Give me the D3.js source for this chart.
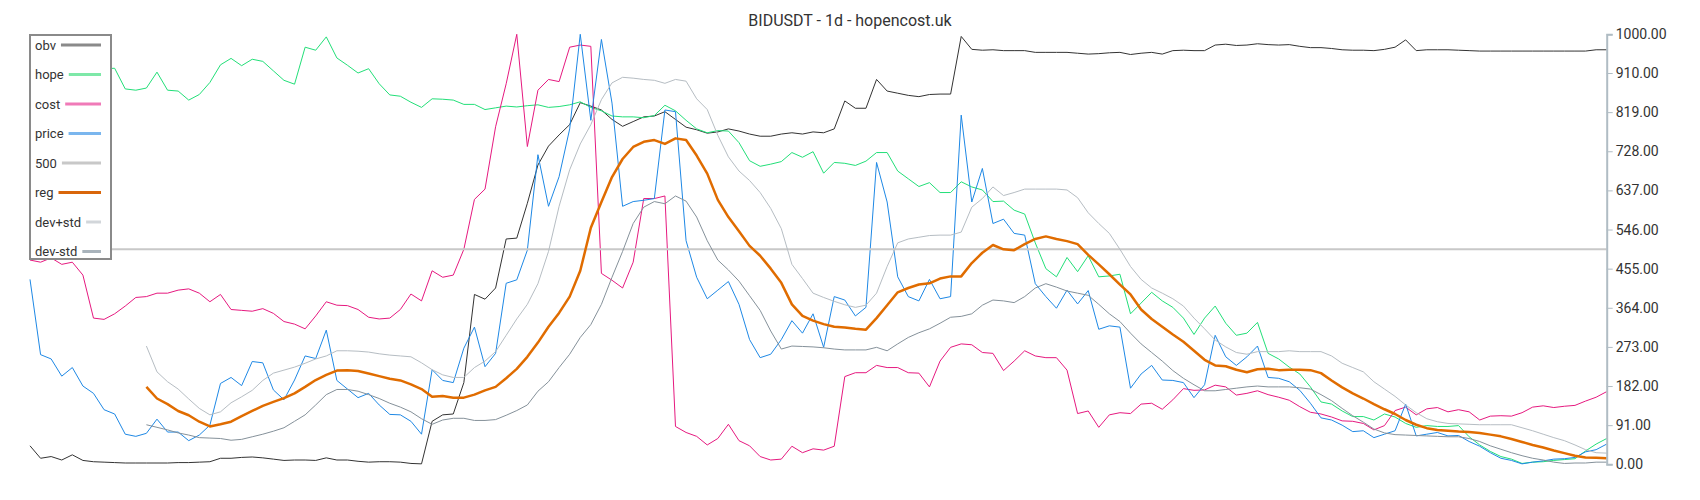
<!DOCTYPE html>
<html><head><meta charset="utf-8">
<script src="https://cdn.jsdelivr.net/npm/d3@7"></script>
<style>
body{margin:0;background:#fff;}
svg{display:block;font-family:Roboto,"Noto Sans",sans-serif;}
</style>
</head><body>
<svg id="chart" width="1700" height="500"></svg>
<script>
const title = "BIDUSDT - 1d - hopencost.uk";
const seriesNames = ["obv","hope","cost","price","500","reg","dev+std","dev-std"];
const tickValues = [0,91,182,273,364,455,546,637,728,819,910,1000];

const obv = [43,14,18,10,22,9,6,5,4,3,
3,3,3,3,4,4,5,6,14,14,
16,17,15,12,9,10,10,9,15,10,
10,7,5,6,6,5,2,1,100,115,
117,190,395,384,410,524,526,607,696,740,
766,790,841,833,824,802,786,797,808,810,
820,802,784,778,770,773,780,775,768,763,
763,768,771,768,773,771,780,845,828,828,
895,868,863,858,855,860,861,861,995,965,
963,964,962,962,962,958,958,958,958,956,
954,955,957,958,953,956,958,954,962,963,
962,962,975,977,974,975,978,976,975,976,
972,969,969,967,964,963,963,962,965,970,
987,962,964,964,964,963,962,961,961,961,
961,961,961,961,961,961,961,961,964,964];

const hope = [910,905,915,900,910,915,920,920,921,873,
870,875,912,870,868,847,860,888,929,944,
927,942,937,915,893,884,970,963,994,945,
928,910,920,885,859,856,842,830,850,849,
847,837,837,825,829,833,831,834,836,830,
832,836,843,830,822,810,808,808,806,811,
835,822,800,780,771,776,775,748,706,693,
698,704,725,714,727,677,702,700,695,705,
725,725,682,664,646,655,632,632,657,645,
638,611,612,591,582,515,455,436,481,448,
485,436,438,442,350,375,400,380,365,340,
302,340,368,328,300,305,330,258,245,226,
210,180,145,140,124,111,111,103,117,110,
95,86,90,88,88,90,64,45,30,18,
12,2,5,6,9,11,13,31,47,60];

const cost = [475,470,480,465,470,440,340,337,350,368,
388,390,398,398,405,408,398,378,395,360,
358,356,362,351,332,326,315,345,378,370,
369,360,342,338,340,360,396,380,450,435,
440,500,616,640,785,885,1000,739,870,895,
890,970,975,972,444,428,410,470,618,618,
624,88,74,65,45,60,93,55,43,18,
10,12,42,27,36,33,42,204,213,213,
230,225,225,213,212,180,240,272,280,278,
260,258,218,240,264,252,248,248,219,118,
124,86,115,120,118,140,142,128,150,176,
172,173,184,180,161,165,171,162,156,149,
134,121,117,110,101,100,95,80,90,125,
133,115,129,132,122,127,122,103,112,113,
112,120,133,136,132,135,137,147,156,169];

const price = [430,255,245,205,225,182,165,127,117,70,
65,72,105,75,75,55,68,91,188,202,
183,239,236,173,150,196,252,246,312,195,
175,155,165,138,116,115,100,70,220,195,
190,270,319,227,258,421,429,498,720,600,
669,780,1000,800,988,840,600,611,614,618,
824,820,520,435,385,405,425,372,290,248,
256,290,334,305,350,272,390,382,345,365,
702,610,436,390,380,430,385,390,812,610,
688,560,570,537,533,420,390,363,405,373,
404,314,322,319,177,210,230,196,195,190,
155,185,300,250,230,250,275,202,200,192,
172,142,108,103,91,76,78,62,70,78,
140,66,70,74,66,67,53,42,27,14,
9,1,5,8,12,13,16,29,34,47];

const level500 = [500];

const reg = [null,null,null,null,null,null,null,null,null,null,
null,180,153,140,124,114,99,88,93,99,
112,124,136,145,154,165,180,196,208,218,
219,217,211,205,199,195,186,175,157,159,
155,155,162,172,180,200,222,250,283,320,
352,390,450,550,610,668,710,738,750,754,
745,758,754,718,676,615,575,542,508,485,
455,422,372,345,334,326,320,318,315,313,
340,370,400,410,418,421,432,437,437,468,
492,510,500,498,512,524,530,524,519,512,
487,465,442,418,395,360,338,320,302,285,
264,243,230,228,220,214,221,222,219,220,
220,219,212,195,179,165,153,140,128,117,
103,92,84,80,78,76,75,73,69,65,
59,52,45,39,32,26,20,16,15,14];

const devPlus = [null,null,null,null,null,null,null,null,null,null,
null,275,215,192,175,152,130,115,122,143,
157,172,195,212,219,226,235,245,252,264,
264,263,261,257,254,252,250,236,220,208,
202,202,225,240,262,300,338,372,420,495,
600,685,745,790,848,887,900,898,895,893,
886,895,891,850,825,765,715,682,660,632,
595,548,465,432,398,388,379,371,365,370,
398,460,515,524,528,532,533,533,540,598,
618,645,625,632,640,640,640,640,638,620,
585,560,537,500,460,430,410,398,385,368,
340,315,289,273,260,256,262,262,262,264,
262,262,262,252,235,225,215,192,175,158,
138,120,106,99,95,94,93,92,92,92,
92,85,78,70,62,55,45,34,27,26];

const devMinus = [null,null,null,null,null,null,null,null,null,null,
null,92,86,80,73,68,62,61,60,56,
58,64,70,77,85,100,115,138,162,174,
174,170,162,153,142,133,122,106,93,103,
107,107,102,102,104,114,125,138,170,192,
225,256,295,325,372,435,495,560,598,611,
606,624,612,575,520,475,452,426,392,358,
310,268,275,274,273,271,268,266,266,266,
272,264,280,295,306,315,328,342,344,350,
370,382,380,376,390,410,420,412,403,398,
393,372,350,332,305,280,260,240,218,200,
185,171,171,174,177,180,182,180,180,180,
178,175,162,148,130,113,98,82,73,69,
68,67,66,65,64,64,60,53,43,35,
27,20,14,10,5,2,3,3,5,5];

// styles
const colors = {"obv":"#333333","hope":"#22df78","cost":"#e6197f","price":"#1e88e5","500":"#c8c8c8","reg":"#e06c00","dev+std":"#b6bdc3","dev-std":"#85919a"};
const widths = {"obv":1,"hope":1,"cost":1,"price":1,"500":2,"reg":2.5,"dev+std":1,"dev-std":1};
const swatch = {"obv":"#8a8a8a","hope":"#7ee8a8","cost":"#f07ab8","price":"#7ab6ee","500":"#c8c8c8","reg":"#d9660a","dev+std":"#d2d6da","dev-std":"#a9b3bb"};

const N = price.length;
const svg = d3.select("#chart");
const x = d3.scaleLinear().domain([0, N-1]).range([30, 1606.7]);
const y = d3.scaleLinear().domain([0, 1000]).range([464.3, 34.3]);

svg.append("text").attr("x", 850).attr("y", 26).attr("text-anchor","middle")
  .attr("font-size", 16).attr("fill", "#333").text(title);

const line = d3.line().defined(d => d != null).x((d,i) => x(i)).y(d => y(d));
const g = svg.append("g");
const dataMap = {"obv":obv,"hope":hope,"cost":cost,"price":price,"reg":reg,"dev+std":devPlus,"dev-std":devMinus};

function drawSeries(name){
  if (name === "500") {
    g.append("line").attr("x1", x(0)).attr("x2", x(N-1))
      .attr("y1", y(level500[0])).attr("y2", y(level500[0]))
      .attr("stroke", colors["500"]).attr("stroke-width", widths["500"]);
    return;
  }
  g.append("path").datum(dataMap[name]).attr("d", line)
    .attr("fill","none").attr("stroke", colors[name]).attr("stroke-width", widths[name])
    .attr("stroke-linejoin","round");
}
["obv","hope","cost","price","500","dev+std","dev-std","reg"].forEach(drawSeries);

// axis
const axis = d3.axisRight(y).tickValues(tickValues).tickFormat(d3.format(".2f")).tickSize(6);
const ax = svg.append("g").attr("transform", `translate(${x(N-1)},0)`).call(axis);
ax.select(".domain").attr("stroke", "#b0bcc4").attr("stroke-width", 2);
ax.selectAll(".tick line").attr("stroke", "#b0bcc4");
ax.selectAll(".tick text").attr("fill", "#333").attr("font-size", 14).attr("font-family","Roboto");

// legend
const lg = svg.append("g");
lg.append("rect").attr("x", 30).attr("y", 35).attr("width", 81).attr("height", 224)
  .attr("fill", "#fff").attr("stroke", "#8a8a8a").attr("stroke-width", 2);
seriesNames.forEach((name, k) => {
  const yy = 45 + k * 29.5;
  const t = lg.append("text").attr("x", 35).attr("y", yy).attr("dy", "0.35em")
    .attr("font-size", 13).attr("fill", "#333").text(name);
  const w = t.node().getComputedTextLength();
  lg.append("line").attr("x1", 35 + w + 5).attr("x2", 101).attr("y1", yy).attr("y2", yy)
    .attr("stroke", swatch[name]).attr("stroke-width", 3);
});
</script>
</body></html>
